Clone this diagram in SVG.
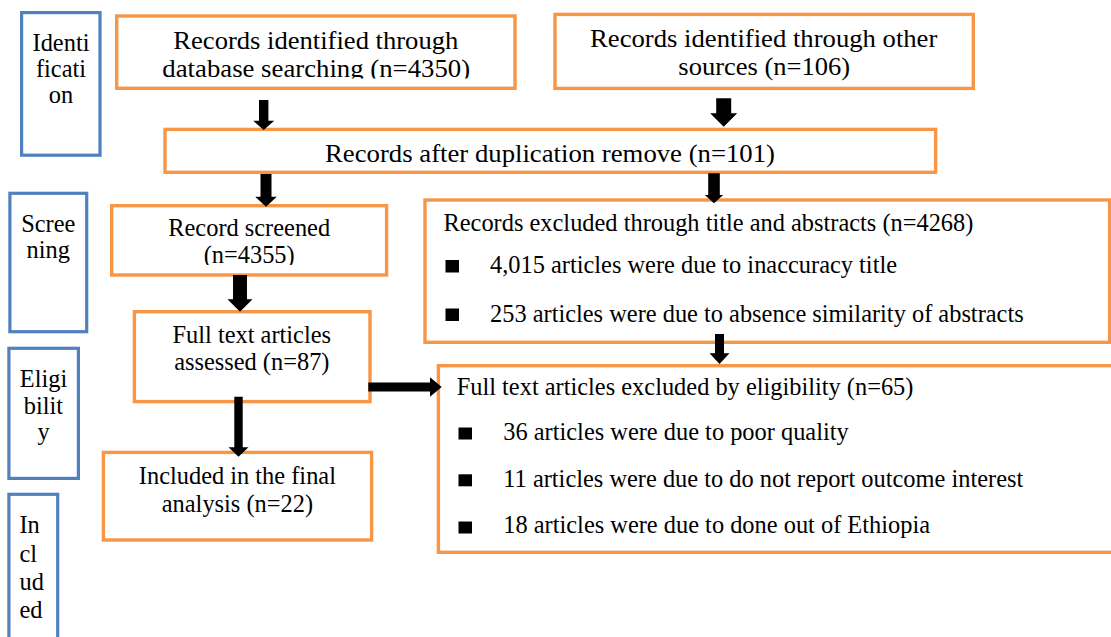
<svg xmlns="http://www.w3.org/2000/svg" width="1111" height="637" viewBox="0 0 1111 637">
<style>
.stage{fill:#fff;stroke:#4F81BD;stroke-width:3.2}
.box{fill:#fff;stroke:#F79646;stroke-width:3.4}
text{font-family:"Liberation Serif","Times New Roman",serif;font-size:24.4px;fill:#000}
.c{text-anchor:middle}
.arr{fill:#000}
.bul{fill:#000}
</style>
<defs>
<clipPath id="clipA"><rect x="110" y="10" width="410" height="68.5"/></clipPath>
<clipPath id="clipD"><rect x="105" y="200" width="290" height="65"/></clipPath>
</defs>
<rect width="1111" height="637" fill="#fff"/>

<g id="stage-identification">
<rect class="stage" x="21.6" y="12.6" width="78.4" height="142.6"/>
<text class="c" x="61" y="50.7">Identi</text>
<text class="c" x="61" y="76.8">ficati</text>
<text class="c" x="61" y="103">on</text>
</g>
<g id="stage-screening">
<rect class="stage" x="9.9" y="193.3" width="76.8" height="138.4"/>
<text class="c" x="48.3" y="231.7">Scree</text>
<text class="c" x="48.3" y="258.3">ning</text>
</g>
<g id="stage-eligibility">
<rect class="stage" x="8.9" y="348.3" width="69.5" height="130.1"/>
<text class="c" x="43.5" y="386.7">Eligi</text>
<text class="c" x="43.5" y="413.5">bilit</text>
<text class="c" x="43.5" y="440">y</text>
</g>
<g id="stage-included">
<rect class="stage" x="8.9" y="494.3" width="48.8" height="150"/>
<text x="19.5" y="533.3">In</text>
<text x="19.5" y="561.7">cl</text>
<text x="19.5" y="590">ud</text>
<text x="19.5" y="618.3">ed</text>
</g>

<g id="node-db">
<rect class="box" x="116.7" y="16" width="398.3" height="72.3"/>
<text class="c" x="315.8" y="49.3" textLength="285" lengthAdjust="spacingAndGlyphs">Records identified through</text>
<text class="c" x="316.2" y="77.3" textLength="307.7" lengthAdjust="spacingAndGlyphs" clip-path="url(#clipA)">database searching (n=4350)</text>
</g>
<g id="node-other">
<rect class="box" x="555" y="14.4" width="418.3" height="74"/>
<text class="c" x="763.7" y="46.7" textLength="347.3" lengthAdjust="spacingAndGlyphs">Records identified through other</text>
<text class="c" x="764.2" y="75" textLength="171.7" lengthAdjust="spacingAndGlyphs">sources (n=106)</text>
</g>
<g id="node-dedup">
<rect class="box" x="165" y="129.4" width="770.6" height="42.9"/>
<text class="c" x="550" y="161.7" textLength="450" lengthAdjust="spacingAndGlyphs">Records after duplication remove (n=101)</text>
</g>
<g id="node-screened">
<rect class="box" x="111.7" y="205.7" width="274.9" height="69.3"/>
<text class="c" x="249.2" y="236">Record screened</text>
<text class="c" x="249.2" y="263.3" clip-path="url(#clipD)">(n=4355)</text>
</g>
<g id="node-excluded-title">
<rect class="box" x="425" y="200" width="684.6" height="142.3"/>
<text x="443.5" y="230.7">Records excluded through title and abstracts (n=4268)</text>
<rect class="bul" x="445.5" y="260" width="13.5" height="12.5"/>
<text x="490" y="273.3">4,015 articles were due to inaccuracy title</text>
<rect class="bul" x="445.5" y="308.5" width="13.5" height="12.5"/>
<text x="490" y="321.7">253 articles were due to absence similarity of abstracts</text>
</g>
<g id="node-fulltext">
<rect class="box" x="134.4" y="311.7" width="235.6" height="89.9"/>
<text class="c" x="251.8" y="342.7">Full text articles</text>
<text class="c" x="251.8" y="370">assessed (n=87)</text>
</g>
<g id="node-excluded-elig">
<rect class="box" x="438.4" y="365.7" width="680" height="186.6"/>
<text x="456.7" y="395">Full text articles excluded by eligibility (n=65)</text>
<rect class="bul" x="458.5" y="427.5" width="13.5" height="12"/>
<text x="503.3" y="440">36 articles were due to poor quality</text>
<rect class="bul" x="458.5" y="474.3" width="13.5" height="12"/>
<text x="503.3" y="486.7">11 articles were due to do not report outcome interest</text>
<rect class="bul" x="458.5" y="521.5" width="13.5" height="12"/>
<text x="503.3" y="533.3">18 articles were due to done out of Ethiopia</text>
</g>
<g id="node-included">
<rect class="box" x="103.4" y="452.4" width="268.2" height="87.6"/>
<text class="c" x="237.4" y="484">Included in the final</text>
<text class="c" x="237.4" y="511.7">analysis (n=22)</text>
</g>

<g id="connectors">
<polygon class="arr" points="259,100 268.4,100 268.4,120.7 274.2,120.7 263.7,130 253.2,120.7 259,120.7"/>
<polygon class="arr" points="716.2,98.3 731.2,98.3 731.2,113.3 737.2,113.3 723.7,126.7 710.2,113.3 716.2,113.3"/>
<polygon class="arr" points="260.5,174 271.5,174 271.5,196.7 276.8,196.7 266,206.7 255.2,196.7 260.5,196.7"/>
<polygon class="arr" points="708.2,173.3 719.8,173.3 719.8,195 723.2,195 714,203.3 704.8,195 708.2,195"/>
<polygon class="arr" points="233,275 247,275 247,299.3 252.5,299.3 240,311.7 227.5,299.3 233,299.3"/>
<polygon class="arr" points="234.3,396.7 242.7,396.7 242.7,447.3 248.5,447.3 238.5,456.7 228.5,447.3 234.3,447.3"/>
<polygon class="arr" points="368.3,382.5 430,382.5 430,377.3 441.7,387 430,396.7 430,391.5 368.3,391.5"/>
<polygon class="arr" points="715,334 724,334 724,353.3 729.5,353.3 719.5,364 709.5,353.3 715,353.3"/>
</g>
</svg>
